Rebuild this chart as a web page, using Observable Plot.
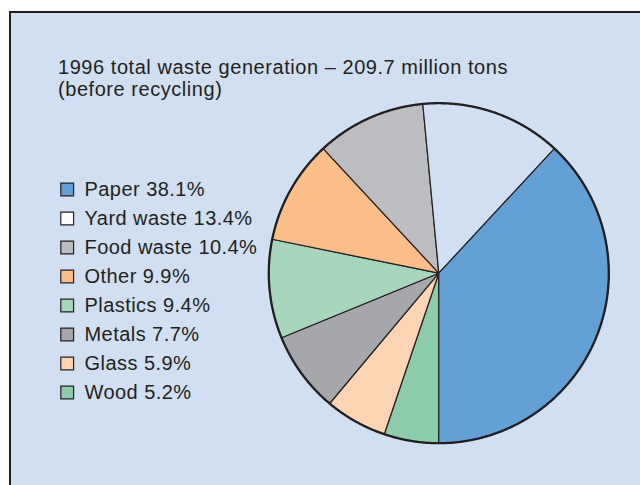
<!DOCTYPE html>
<html><head><meta charset="utf-8">
<script src="https://cdn.jsdelivr.net/npm/d3@7"></script>
<script src="https://cdn.jsdelivr.net/npm/@observablehq/plot@0.6"></script>
<style>
body{margin:0;background:#fff;}
#wrap{position:relative;width:640px;height:485px;overflow:hidden;font-family:"Liberation Sans",Arial,sans-serif;}
#frame{position:absolute;left:9px;top:11px;width:640px;height:480px;border-left:2px solid #231f20;border-top:2px solid #231f20;background:#d0e0f2;}
#title{position:absolute;left:58px;top:56px;font-size:20px;line-height:22px;letter-spacing:0.55px;color:#231f20;white-space:nowrap;}
#wrap svg{position:absolute;left:0;top:0;background:transparent;}
#wrap svg text{letter-spacing:0.45px;}
</style></head><body>
<div id="wrap"><div id="frame"></div><div id="title">1996 total waste generation – 209.7 million tons<br>(before recycling)</div></div>
<script>
const categories = ["Paper","Yard waste","Food waste","Other","Plastics","Metals","Glass","Wood"];
const shares = [38.1, 13.4, 10.4, 9.9, 9.4, 7.7, 5.9, 5.2];
const sliceColors = ["#62a0d5","#d0e0f2","#bcbdc1","#fbbe88","#a6d6bc","#a6a7ab","#fed4b2","#8bcdab"];
const swatchColors = ["#62a0d5","#ffffff","#bcbdc1","#fbbe88","#a6d6bc","#a6a7ab","#fed4b2","#8bcdab"];

const data = categories.map((name, i) => ({name, share: shares[i]}));
// pie drawn clockwise starting at 6 o'clock with Wood first
const arcs = d3.pie().sort(null).value(d => d.share)
  .startAngle(Math.PI).endAngle(3 * Math.PI)(data.slice().reverse());

const step = Math.PI / 720;
const slicePts = [];
for (const a of arcs) {
  slicePts.push({name: a.data.name, x: 0, y: 0});
  const n = Math.max(2, Math.ceil((a.endAngle - a.startAngle) / step));
  for (let k = 0; k <= n; k++) {
    const t = a.startAngle + (a.endAngle - a.startAngle) * k / n;
    slicePts.push({name: a.data.name, x: Math.sin(t), y: Math.cos(t)});
  }
  slicePts.push({name: a.data.name, x: 0, y: 0});
}
const circlePts = d3.range(0, 1441).map(k => {
  const t = k * 2 * Math.PI / 1440;
  return {x: Math.sin(t), y: Math.cos(t)};
});

const pie = Plot.plot({
  width: 640, height: 485,
  marginTop: 0, marginRight: 0, marginBottom: 0, marginLeft: 0,
  style: {background: "transparent"},
  x: {domain: [-1, 1], range: [268.3, 608.3], axis: null},
  y: {domain: [-1, 1], range: [442.7, 102.7], axis: null},
  color: {domain: categories, range: sliceColors},
  marks: [
    Plot.line(slicePts, {x: "x", y: "y", z: "name", fill: "name", stroke: "#231f20", strokeWidth: 1.2, strokeLinejoin: "miter"}),
    Plot.line(circlePts, {x: "x", y: "y", stroke: "#231f20", strokeWidth: 2.3})
  ]
});

const legend = Plot.plot({
  width: 640, height: 485,
  marginTop: 0, marginRight: 0, marginBottom: 0, marginLeft: 0,
  style: {background: "transparent", fontFamily: "'Liberation Sans', Arial, sans-serif"},
  x: {domain: [0, 1], range: [66.7, 84], axis: null},
  y: {type: "point", domain: categories, range: [188.8, 392.8], padding: 0, axis: null},
  color: {domain: categories, range: swatchColors},
  marks: [
    Plot.dot(data, {x: () => 0, y: "name", symbol: "square", r: 7.2, fill: "name", stroke: "#231f20", strokeWidth: 1.2}),
    Plot.text(data, {x: () => 1, y: "name", text: d => `${d.name} ${d.share}%`, textAnchor: "start", fontSize: 20, fill: "#231f20"})
  ]
});

const wrap = document.getElementById("wrap");
wrap.appendChild(pie);
wrap.appendChild(legend);
</script>
</body></html>
